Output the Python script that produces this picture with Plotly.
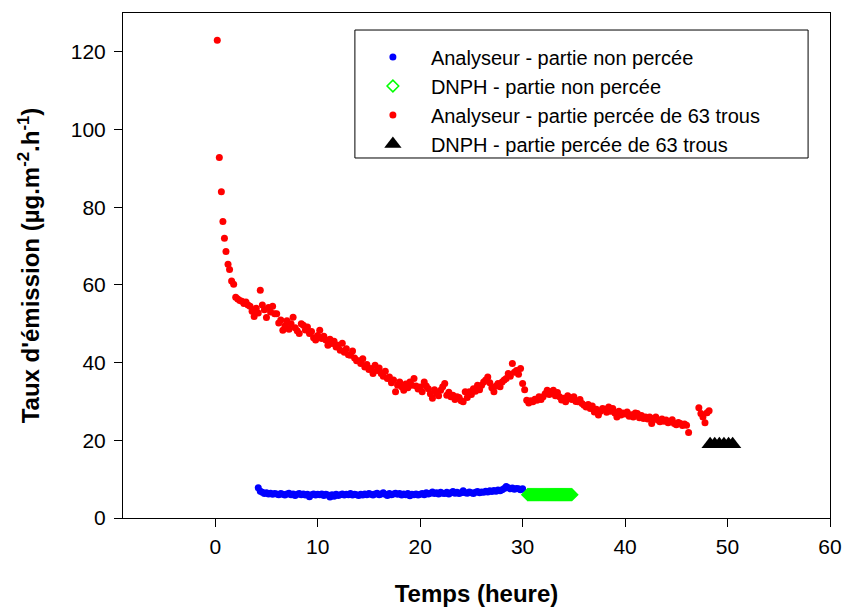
import numpy as np
import plotly.graph_objects as go

# --- Analyseur, partie percée de 63 trous (red) ---
# first readings after the start, irregular timing
red_time_start = [0.2, 0.4, 0.6, 0.75, 0.9, 1.05, 1.25, 1.4, 1.6, 1.8]
red_rate_start = [123.0, 92.8, 84.0, 76.3, 72.0, 68.6, 65.3, 64.0, 61.0, 60.2]

# regular readings every 0.2 h from 2.0 h
red_t0 = 2.0
red_dt = 0.2
red_rate_main = [
    56.8, 56.4, 56.0, 55.8, 55.2, 55.6, 54.8, 54.5, 53.2, 51.9,
    54.0, 52.8, 58.6, 54.8, 53.6, 51.6, 54.2, 53.0, 54.5, 52.6,
    52.6, 50.2, 51.0, 48.3, 49.5, 50.8, 48.6, 50.0, 51.7, 49.0,
    48.2, 47.5, 50.0, 49.6, 48.4, 49.2, 47.5, 48.0, 46.4, 45.8,
    47.0, 48.3, 46.2, 46.8, 45.8, 44.5, 46.0, 44.9, 45.5, 44.0,
    44.5, 43.2, 45.0, 42.7, 43.6, 42.0, 41.9, 43.0, 41.2, 40.5,
    40.5, 39.8, 41.0, 38.9, 39.5, 38.2, 38.5, 37.2, 39.3, 38.0,
    38.6, 37.2, 36.5, 37.8, 35.9, 36.3, 34.8, 35.5, 32.5, 34.2,
    35.0, 33.8, 32.9, 34.5, 33.5, 35.0, 34.2, 35.9, 34.0, 33.2,
    33.7, 32.5, 35.0, 34.0, 33.3, 32.0, 30.8, 33.0, 32.1, 31.5,
    32.9, 33.8, 34.6, 31.6, 32.4, 31.2, 31.6, 30.5, 31.2, 31.0,
    30.2, 29.9, 32.5, 31.0, 32.5, 31.8, 33.3, 32.6, 34.2, 33.0,
    34.2, 35.0, 35.5, 36.3, 34.8, 33.5, 32.5, 34.0, 34.6, 33.8,
    35.0, 35.5, 35.9, 37.2, 36.5, 39.8, 37.5, 38.0, 37.0, 38.5,
    34.6, 33.0, 30.3, 29.6, 30.2, 29.9, 30.6, 30.3, 31.2, 30.5,
    31.2, 32.0, 32.9, 31.8, 32.5, 32.9, 31.5, 32.3, 31.2, 30.4,
    30.8, 29.9, 31.5, 31.0, 30.5, 31.2, 30.0, 29.9, 30.5, 29.5,
    29.0, 28.6, 29.2, 28.2, 28.8, 27.3, 28.0, 26.5, 27.5, 28.2,
    28.0, 27.2, 28.6, 27.5, 28.2, 27.0, 26.0, 27.5, 26.5, 27.0,
    26.8, 27.3, 26.2, 26.6, 26.0, 27.0, 26.9, 25.8, 26.4, 25.6,
    26.0, 25.5, 26.0, 24.3, 25.6, 26.0, 25.2, 24.8, 25.5, 24.9,
    25.2, 24.5, 24.8, 25.3, 24.3, 24.0, 24.6, 24.3, 23.8, 24.2,
    23.9, 22.0,
]

# readings after the short interruption
red_time_end = [47.2, 47.4, 47.6, 47.8, 48.0, 48.2]
red_rate_end = [28.4, 26.9, 26.0, 24.5, 27.1, 27.6]

# --- Analyseur, partie non percée (blue), every 0.2 h from 4.2 h ---
blue_t0 = 4.2
blue_dt = 0.2
blue_rate = [
    7.8, 6.9, 6.6, 6.3, 6.5, 6.2, 6.4, 6.1, 6.3, 6.2,
    6.0, 6.3, 6.1, 5.9, 6.2, 6.4, 6.0, 6.2, 5.8, 6.1,
    6.3, 6.0, 6.2, 5.9, 6.1, 5.5, 6.0, 6.2, 5.9, 6.1,
    6.0, 6.2, 5.8, 6.1, 5.9, 5.4, 6.0, 5.6, 6.1, 5.8,
    6.0, 6.2, 5.9, 6.1, 6.0, 6.3, 5.9, 6.1, 6.0, 5.8,
    6.1, 5.9, 6.2, 6.0, 6.3, 6.1, 5.9, 6.2, 6.4, 6.0,
    6.2, 6.5, 6.1, 5.8, 6.3, 6.0, 6.2, 6.4, 6.1, 6.3,
    5.9, 6.2, 6.0, 6.3, 5.7, 6.1, 6.0, 6.2, 5.9, 6.1,
    6.3, 6.0, 6.5, 6.2, 6.4, 6.7, 6.3, 6.5, 6.2, 6.6,
    6.4, 6.3, 6.6, 6.2, 6.5, 6.8, 6.4, 6.6, 6.3, 6.5,
    7.0, 6.5, 6.4, 6.7, 6.5, 6.3, 6.6, 6.8, 6.5, 6.7,
    6.6, 6.9, 6.7, 7.0, 6.8, 7.1, 6.9, 7.2, 7.0, 7.3,
    7.6, 8.1, 7.8, 7.5, 7.7, 7.4, 7.6, 7.5, 7.3, 7.5,
]

# --- DNPH, partie non percée (green), every 0.1 h from 30.5 h ---
green_t0 = 30.5
green_dt = 0.1
green_rate = [6.0] * 44

# --- DNPH, partie percée de 63 trous (black) ---
black_time = [48.3, 48.75, 49.2, 49.65, 50.1, 50.5]
black_rate = [19.0, 19.0, 19.0, 19.0, 19.0, 19.0]

x_ticks = [0, 10, 20, 30, 40, 50, 60]
y_ticks = [0, 20, 40, 60, 80, 100, 120]

red_time = (red_time_start
            + list(red_t0 + red_dt * np.arange(len(red_rate_main)))
            + red_time_end)
red_rate = red_rate_start + red_rate_main + red_rate_end
blue_time = list(blue_t0 + blue_dt * np.arange(len(blue_rate)))
green_time = list(green_t0 + green_dt * np.arange(len(green_rate)))

FONT = "Liberation Sans, Arial, sans-serif"

fig = go.Figure()
fig.add_trace(go.Scatter(
    x=blue_time, y=blue_rate, mode="markers",
    name="Analyseur - partie non percée",
    marker=dict(color="#0000ff", size=7, line=dict(width=0)),
))
fig.add_trace(go.Scatter(
    x=green_time, y=green_rate, mode="markers",
    name="DNPH - partie non percée",
    marker=dict(symbol="diamond-open", color="#00ff00", size=9,
                line=dict(width=1.5, color="#00ff00")),
))
fig.add_trace(go.Scatter(
    x=red_time, y=red_rate, mode="markers",
    name="Analyseur - partie percée de 63 trous",
    marker=dict(color="#ff0000", size=7, line=dict(width=0)),
))
fig.add_trace(go.Scatter(
    x=black_time, y=black_rate, mode="markers",
    name="DNPH - partie percée de 63 trous",
    marker=dict(symbol="triangle-up", color="#000000", size=15,
                line=dict(width=0)),
))

# legend frame
fig.add_shape(type="rect", xref="paper", yref="paper",
              x0=0.328, x1=0.969, y0=0.7129, y1=0.9663,
              line=dict(color="#000000", width=1), fillcolor="#ffffff",
              layer="below")

axis_common = dict(
    showgrid=False, zeroline=False, showline=True, linecolor="#000000",
    linewidth=1, mirror=True, ticks="outside", ticklen=8, tickwidth=1,
    tickcolor="#000000", tickfont=dict(family=FONT, size=21, color="#000000"),
    automargin=False,
)

fig.update_layout(
    width=848, height=607,
    margin=dict(l=123, r=18, t=13, b=89),
    paper_bgcolor="#ffffff", plot_bgcolor="#ffffff",
    font=dict(family=FONT, color="#000000"),
    showlegend=True,
    legend=dict(
        x=0.328, y=0.9515, xanchor="left", yanchor="top",
        bgcolor="rgba(0,0,0,0)", borderwidth=0,
        font=dict(family=FONT, size=20, color="#000000"),
        itemwidth=66, tracegroupgap=0,
    ),
    xaxis=dict(
        range=[-9, 60], tickvals=x_ticks, ticklabelstandoff=2,
        title=dict(text="<b>Temps (heure)</b>",
                   font=dict(family=FONT, size=24, color="#000000"),
                   standoff=28),
        **axis_common,
    ),
    yaxis=dict(
        range=[0, 130], tickvals=y_ticks, ticklabelstandoff=4,
        title=dict(text="<b>Taux d'émission (µg.m<sup>-2</sup>.h<sup>-1</sup>)</b>",
                   font=dict(family=FONT, size=24, color="#000000"),
                   standoff=24),
        **axis_common,
    ),
)

fig.write_html("out.html")
